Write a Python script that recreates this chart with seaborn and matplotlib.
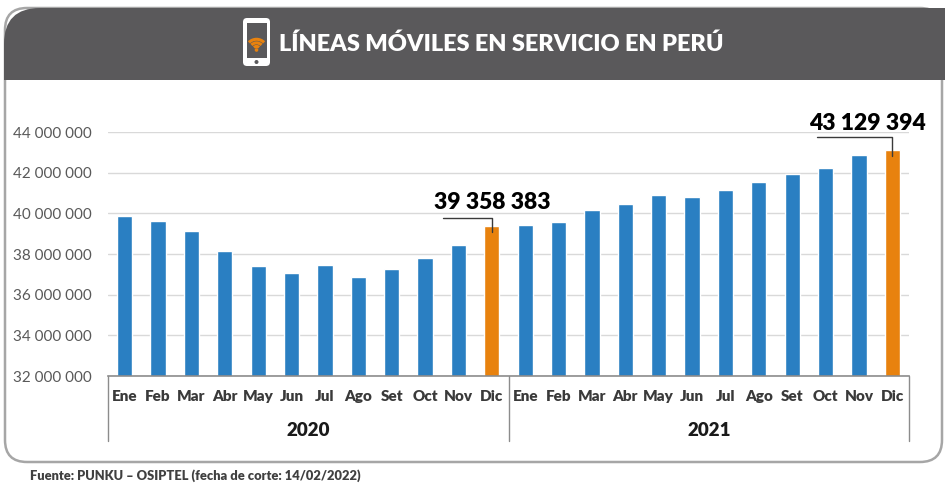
import numpy as np
import pandas as pd
import seaborn as sns
import matplotlib.pyplot as plt
from matplotlib.patches import FancyBboxPatch, Rectangle, Arc, Circle
from matplotlib.transforms import IdentityTransform, blended_transform_factory
from matplotlib.ticker import FuncFormatter

meses = ["Ene", "Feb", "Mar", "Abr", "May", "Jun", "Jul", "Ago", "Set", "Oct", "Nov", "Dic"]
anios = ["2020", "2021"]
lineas_2020 = [39850000, 39630000, 39110000, 38170000, 37430000, 37060000,
               37480000, 36860000, 37240000, 37810000, 38450000, 39358383]
lineas_2021 = [39440000, 39570000, 40160000, 40460000, 40920000, 40820000,
               41150000, 41560000, 41950000, 42230000, 42890000, 43129394]

azul = "#2a7fc2"
naranja = "#e8820e"
gris_cab = "#5a595b"

sns.set_theme(style="white")
plt.rcParams['font.family'] = ['Lato', 'DejaVu Sans']

df = pd.DataFrame({
    "periodo": [m + " " + a for a in anios for m in meses],
    "mes": meses * 2,
    "lineas": lineas_2020 + lineas_2021,
})
df["tipo"] = np.where(df["mes"] == "Dic", "cierre", "normal")

W, H = 950, 484
fig = plt.figure(figsize=(W / 100, H / 100), dpi=100)
fig.patch.set_facecolor("white")
px = IdentityTransform()


def Y(y):
    return H - y


# tarjeta y cabecera
fig.add_artist(FancyBboxPatch((5, Y(462)), 937, 454, boxstyle="round,pad=0,rounding_size=22",
                              transform=px, facecolor="white", edgecolor="#a6a6a6", lw=1.8, zorder=0))
fig.add_artist(FancyBboxPatch((4, Y(80)), 941, 72, boxstyle="round,pad=0,rounding_size=36",
                              transform=px, facecolor=gris_cab, edgecolor="none", zorder=1))
fig.add_artist(Rectangle((4, Y(80)), 941, 36, transform=px, facecolor=gris_cab, edgecolor="none", zorder=1))
fig.add_artist(Rectangle((880, Y(80)), 65, 72, transform=px, facecolor=gris_cab, edgecolor="none", zorder=1))

# icono del celular
fig.add_artist(FancyBboxPatch((243, Y(66)), 27, 48, boxstyle="round,pad=0,rounding_size=4",
                              transform=px, facecolor="white", edgecolor="none", zorder=2))
fig.add_artist(Rectangle((246.5, Y(58)), 20, 35, transform=px, facecolor=gris_cab, edgecolor="none", zorder=3))
fig.add_artist(Circle((256.5, Y(62)), 2, transform=px, facecolor=gris_cab, edgecolor="none", zorder=3))
for r in [5, 10, 15]:
    fig.add_artist(Arc((256.5, Y(50)), r * 2 / 1.4, r * 2 / 1.4, theta1=45, theta2=135, transform=px,
                       color=naranja, lw=2.2, zorder=4))
fig.add_artist(Circle((256.5, Y(50)), 1.8, transform=px, facecolor=naranja, edgecolor="none", zorder=4))

fig.text(501, Y(44), "LÍNEAS MÓVILES EN SERVICIO EN PERÚ", transform=px, ha="center", va="center",
         color="white", fontsize=16.9, fontweight="heavy")

# grafico de barras
ax = fig.add_axes([108 / W, (H - 376) / H, (909 - 108) / W, (376 - 132) / H])
ax.set_facecolor("none")
sns.barplot(data=df, x="periodo", y="lineas", hue="tipo", palette={"normal": azul, "cierre": naranja},
            dodge=False, width=0.46, saturation=1, legend=False, ax=ax)

ax.set_xlim(-0.5, 23.5)
ax.set_ylim(32e6, 44e6)
ax.set_yticks(np.arange(32e6, 44e6 + 1, 2e6))
ax.yaxis.set_major_formatter(FuncFormatter(lambda v, p: f"{v:,.0f}".replace(",", " ")))
ax.set_xticks(range(24))
ax.set_xticklabels(meses * 2)
for t in ax.get_xticklabels():
    t.set_fontweight("heavy")
ax.tick_params(axis="x", length=0, pad=10, labelsize=11, labelcolor="#3a3a3a")
ax.tick_params(axis="y", length=0, pad=12, labelsize=11, labelcolor="#595959")
ax.yaxis.grid(True, color="#d9d9d9", lw=1)
ax.set_axisbelow(True)
for s in ["left", "right", "top"]:
    ax.spines[s].set_visible(False)
ax.spines["bottom"].set_color("#8c8c8c")
ax.spines["bottom"].set_linewidth(1.2)
ax.set_xlabel("")
ax.set_ylabel("")

# separadores y años
tr = blended_transform_factory(ax.transData, ax.transAxes)
for xs in [-0.5, 11.5, 23.5]:
    ax.plot([xs, xs], [0, -0.268], transform=tr, clip_on=False, color="#8c8c8c", lw=1)
for i, a in enumerate(anios):
    ax.text(5.5 + 12 * i, -0.222, a, transform=tr, ha="center", va="center",
            fontsize=13.5, fontweight="heavy", color="#1a1a1a")

# etiquetas de cierre de año
etiquetas = [
    (11, lineas_2020[-1], 11.0, 1.15e6, 9.54, 0.41e6),
    (23, lineas_2021[-1], 22.26, 1.31e6, 20.74, 0.63e6),
]
for xb, val, xt, dyt, xl, dyl in etiquetas:
    ax.plot([xl, xb, xb], [val + dyl, val + dyl, val - 0.3e6], color="#3a3a3a", lw=1, clip_on=False, zorder=5)
    ax.text(xt, val + dyt, f"{val:,.0f}".replace(",", " "), ha="center", va="center",
            fontsize=16.5, fontweight="heavy", color="black", clip_on=False)

fig.text(30, Y(476), "Fuente: PUNKU – OSIPTEL (fecha de corte: 14/02/2022)", transform=px,
         ha="left", va="center", fontsize=9.3, fontweight="heavy", color="#404040")

fig.savefig("out.png", dpi=100)
